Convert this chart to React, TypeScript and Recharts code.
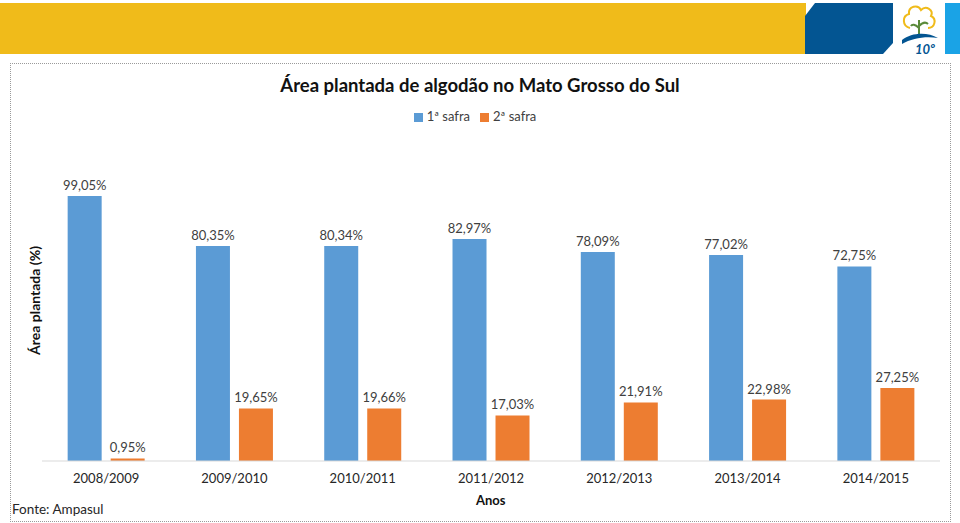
import { Bar, BarChart, LabelList, Legend, XAxis, YAxis } from 'recharts'

const safras = ['2008/2009', '2009/2010', '2010/2011', '2011/2012', '2012/2013', '2013/2014', '2014/2015']
const primeiraSafra = [99.05, 80.35, 80.34, 82.97, 78.09, 77.02, 72.75]
const segundaSafra = [0.95, 19.65, 19.66, 17.03, 21.91, 22.98, 27.25]

const data = safras.map((ano, i) => ({
  ano,
  primeira: primeiraSafra[i],
  segunda: segundaSafra[i],
}))

const FONT = 'Lato, "Noto Sans", sans-serif'
const fmt = (v: any) => `${Number(v).toFixed(2).replace('.', ',')}%`

function Header() {
  return (
    <>
      <div style={{ position: 'absolute', left: 0, top: 3, width: 806, height: 51, background: '#F0BB1A' }} />
      <div
        style={{
          position: 'absolute',
          left: 805,
          top: 3,
          width: 88,
          height: 51,
          background: '#035592',
          clipPath: 'polygon(10px 0, 100% 0, 100% 40px, 78px 100%, 0 100%, 0 13px)',
        }}
      />
      <svg style={{ position: 'absolute', left: 896, top: 2 }} width={46} height={54}>
        <path
          d="M14 26 C6 24 6 14 13 12 C12 4 22 2 25 8 C30 3 38 8 35 14 C41 17 39 26 32 26"
          fill="none"
          stroke="#F0BB1A"
          strokeWidth={2}
        />
        <path d="M23 34 L23 18 M23 26 C19 22 16 22 15 24 M23 24 C27 20 30 20 32 22" stroke="#5A8A3A" strokeWidth={2} fill="none" />
        <path d="M6 38 C16 30 32 30 42 36 C30 34 16 36 6 42 Z" fill="#035592" />
        <text x={19} y={52} fontFamily={FONT} fontStyle="italic" fontWeight={700} fontSize={13} fill="#035592">
          10º
        </text>
      </svg>
      <div style={{ position: 'absolute', left: 945, top: 3, width: 15, height: 51, background: '#1AA3E6' }} />
    </>
  )
}

export default function App() {
  return (
    <div style={{ position: 'absolute', left: 0, top: 0, width: 960, height: 523, background: '#fff', fontFamily: FONT, overflow: 'hidden' }}>
      <Header />
      <div style={{ position: 'absolute', left: 10, top: 63, width: 939, height: 457, border: '1px dotted #9a9a9a' }} />
      <div style={{ position: 'absolute', left: 0, top: 74, width: 960, textAlign: 'center', fontSize: 18.5, fontWeight: 700, color: '#111' }}>
        Área plantada de algodão no Mato Grosso do Sul
      </div>
      <div style={{ position: 'absolute', left: 0, top: 0 }}>
        <BarChart
          width={960}
          height={523}
          data={data}
          margin={{ top: 124, right: 20, left: 0, bottom: 0 }}
          barCategoryGap="20%"
          barGap={9}
          style={{ fontFamily: FONT }}
        >
          <XAxis
            dataKey="ano"
            height={62}
            tickLine={false}
            tickMargin={7}
            axisLine={{ stroke: '#d9d9d9' }}
            tick={{ fontSize: 13, fill: '#262626' }}
            interval={0}
          />
          <YAxis
            width={42}
            domain={[0, 120]}
            tick={false}
            axisLine={false}
            tickLine={false}
            label={{ value: 'Área plantada (%)', angle: -90, position: 'center', dx: 14, fontSize: 14, fontWeight: 700, fill: '#111' }}
          />
          <Legend
            verticalAlign="top"
            iconType="square"
            iconSize={9}
            wrapperStyle={{ top: 108, left: 0, width: 960, fontSize: 13 }}
            formatter={(value: string) => <span style={{ color: '#404040' }}>{value}</span>}
          />
          <Bar dataKey="primeira" name="1ª safra" fill="#5B9BD5" isAnimationActive={false}>
            <LabelList dataKey="primeira" position="top" offset={6} formatter={fmt} fill="#404040" fontSize={13} />
          </Bar>
          <Bar dataKey="segunda" name="2ª safra" fill="#ED7D31" isAnimationActive={false}>
            <LabelList dataKey="segunda" position="top" offset={6} formatter={fmt} fill="#404040" fontSize={13} />
          </Bar>
        </BarChart>
      </div>
      <div style={{ position: 'absolute', left: 476, top: 492, fontSize: 13, fontWeight: 700, color: '#111' }}>Anos</div>
      <div style={{ position: 'absolute', left: 12, top: 501, fontSize: 13.5, color: '#262626' }}>Fonte: Ampasul</div>
    </div>
  )
}
